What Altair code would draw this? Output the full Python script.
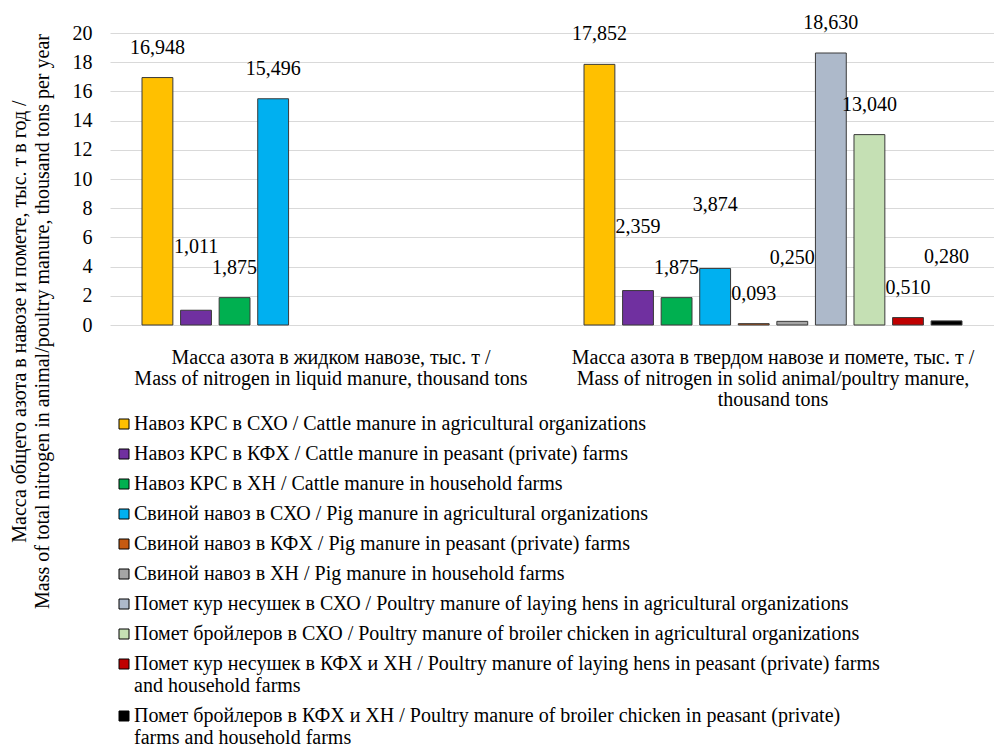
import altair as alt
import pandas as pd

categories = [
    "Масса азота в жидком навозе, тыс. т /|Mass of nitrogen in liquid manure, thousand tons",
    "Масса  азота в твердом навозе и помете, тыс. т /|Mass of nitrogen in solid animal/poultry manure,|thousand tons",
]

series = [
    "Навоз КРС в СХО / Cattle manure in agricultural organizations",
    "Навоз КРС в КФХ / Cattle manure in peasant (private) farms",
    "Навоз КРС в ХН / Cattle manure in household farms",
    "Свиной навоз в СХО / Pig manure in agricultural organizations",
    "Свиной навоз в КФХ / Pig manure in peasant (private) farms",
    "Свиной навоз в ХН / Pig manure in household farms",
    "Помет кур несушек в СХО / Poultry manure of laying hens in agricultural organizations",
    "Помет бройлеров в СХО / Poultry manure of broiler chicken in agricultural organizations",
    "Помет кур несушек в КФХ и ХН / Poultry manure of laying hens in peasant (private) farms|and household farms",
    "Помет бройлеров в КФХ и ХН / Poultry manure of broiler chicken in peasant (private)|farms and household farms",
]

colors = ["#FFC000", "#7030A0", "#00B050", "#00B0F0", "#C55A11",
          "#A5A5A5", "#ADB9CA", "#C5E0B4", "#C00000", "#000000"]

liquid_values = [16.948, 1.011, 1.875, 15.496]
solid_values = [17.852, 2.359, 1.875, 3.874, 0.093, 0.250, 18.630, 13.040, 0.510, 0.280]

rows = []
for i, (s, v) in enumerate(zip(series, liquid_values)):
    rows.append({"group": categories[0], "series": s, "idx": i, "value": v})
for i, (s, v) in enumerate(zip(series, solid_values)):
    rows.append({"group": categories[1], "series": s, "idx": i, "value": v})
df = pd.DataFrame(rows)

FONT = "Liberation Serif"
FS = 20

x_enc = alt.X(
    "group:N",
    sort=categories,
    scale=alt.Scale(domain=categories, paddingInner=0, paddingOuter=0),
    axis=alt.Axis(
        title=None,
        labelExpr="split(datum.label, '|')",
        labelAngle=0,
        ticks=False,
        domain=False,
        labelFont=FONT,
        labelFontSize=FS,
        labelColor="#000000",
        labelLineHeight=21,
        labelPadding=22,
        labelLimit=0,
        labelBaseline="top",
    ),
)
xoff_enc = alt.XOffset(
    "series:N",
    sort=series,
    scale=alt.Scale(domain=series, paddingInner=0.2, paddingOuter=0.83),
)
y_enc = alt.Y(
    "value:Q",
    scale=alt.Scale(domain=[0, 20], nice=False),
    axis=alt.Axis(
        title=[
            "Масса общего азота в навозе и помете, тыс. т в год /",
            "Mass of total nitrogen in animal/poultry manure, thousand tons per year",
        ],
        titleFont=FONT,
        titleFontSize=FS,
        titleFontWeight="normal",
        titleColor="#000000",
        titleLineHeight=23,
        titleAngle=270,
        titleAlign="center",
        titleBaseline="top",
        titleX=-101,
        titleY=288,
        values=list(range(0, 21, 2)),
        tickCount=11,
        labelOverlap=False,
        labelFont=FONT,
        labelFontSize=FS,
        labelColor="#000000",
        labelPadding=18,
        ticks=False,
        domain=False,
        gridColor="#D9D9D9",
        gridWidth=1,
    ),
)

bars = alt.Chart(df).mark_bar(stroke="#3A3A3A", strokeWidth=1).encode(
    x=x_enc,
    xOffset=xoff_enc,
    y=y_enc,
    color=alt.Color(
        "series:N",
        sort=series,
        scale=alt.Scale(domain=series, range=colors),
        legend=alt.Legend(
            title=None,
            orient="none",
            legendX=4,
            legendY=381,
            direction="vertical",
            columns=1,
            symbolType="square",
            symbolSize=100,
            symbolStrokeColor="#000000",
            symbolStrokeWidth=1,
            symbolOpacity=1,
            labelFont=FONT,
            labelFontSize=FS,
            labelColor="#000000",
            labelLimit=0,
            labelOffset=0,
            rowPadding=10.0,
            labelExpr="split(datum.label, '|')",
        ),
    ),
)

# staggered data labels: small bars in odd slots get their label lifted to avoid collisions
labels = alt.Chart(df).transform_calculate(
    lbl="replace(format(datum.value, '.3f'), '.', ',')",
    ly="datum.value + ((datum.idx % 2 == 1 && datum.value < 5) ? 2.3 : 0)",
).mark_text(
    font=FONT, fontSize=FS, color="#000000", baseline="middle", dy=-30
).encode(
    x=alt.X("group:N", sort=categories),
    xOffset=alt.XOffset("series:N", sort=series),
    y=alt.Y("ly:Q"),
    text="lbl:N",
)

chart = alt.layer(bars, labels).properties(
    width=884,
    height=292,
    padding={"left": 110, "top": 33, "right": 0, "bottom": 423},
    autosize=alt.AutoSizeParams(type="none"),
    background="#FFFFFF",
).configure(font=FONT).configure_view(stroke=None)

chart.save("out.html", embed_options={"renderer": "svg", "actions": False})
